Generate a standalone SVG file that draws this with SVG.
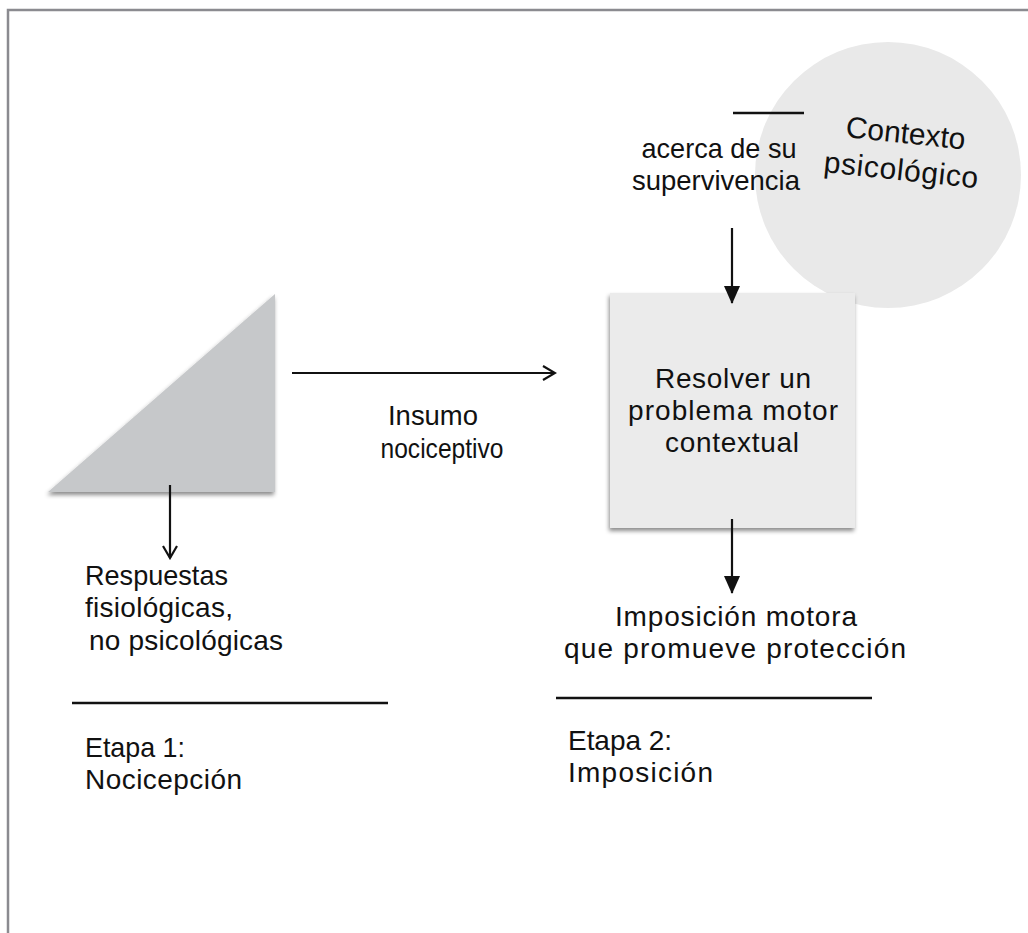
<svg xmlns="http://www.w3.org/2000/svg" width="1028" height="933" viewBox="0 0 1028 933">
<defs>
<style>
text{font-family:"Liberation Sans",Arial,sans-serif;font-size:28px;fill:#111;}
.c{text-anchor:middle;}
.big{font-size:30px;}
.ln{stroke:#111;stroke-width:2.2;fill:none;}
.sep{stroke:#111;stroke-width:2.6;}
</style>
<filter id="sh" x="-10%" y="-10%" width="125%" height="125%">
<feDropShadow dx="-1" dy="3" stdDeviation="2" flood-color="#000" flood-opacity="0.45"/>
</filter>
<marker id="open" viewBox="0 0 16 16" refX="14" refY="8" markerWidth="16" markerHeight="16" markerUnits="userSpaceOnUse" orient="auto">
<path d="M2,1 L14,8 L2,15" fill="none" stroke="#111" stroke-width="2.2"/>
</marker>
<marker id="fill" viewBox="0 0 18 18" refX="17" refY="9" markerWidth="18" markerHeight="18" markerUnits="userSpaceOnUse" orient="auto">
<path d="M0,1 L18,9 L0,17 Z" fill="#111"/>
</marker>
</defs>
<rect width="1028" height="933" fill="#fff"/>
<path d="M8,933 V10 H1028" fill="none" stroke="#8b8b90" stroke-width="2.5"/>

<g id="contexto">
<circle cx="888" cy="175" r="133" fill="#e9e9e9"/>
<text class="big" transform="translate(845,137) rotate(6)">Contexto</text>
<text class="big" transform="translate(823,172) rotate(6)" textLength="155">psicológico</text>
</g>

<g id="supervivencia">
<line class="sep" x1="733" y1="113" x2="804" y2="113"/>
<text class="c" x="719" y="158" textLength="155" lengthAdjust="spacingAndGlyphs">acerca de su</text>
<text class="c" x="716" y="190" textLength="168" lengthAdjust="spacingAndGlyphs">supervivencia</text>
</g>

<g id="nocicepcion-shape">
<polygon points="48,492 275,294 275,492" fill="#c6c8ca" filter="url(#sh)"/>
</g>

<g id="problema">
<rect x="610" y="293" width="245" height="235" fill="#ebebeb" filter="url(#sh)"/>
<text class="c" x="733" y="388" textLength="156">Resolver un</text>
<text class="c" x="733" y="420" textLength="210">problema motor</text>
<text class="c" x="732" y="452" textLength="134">contextual</text>
</g>

<g id="insumo">
<text class="c" x="433" y="425" textLength="90" lengthAdjust="spacingAndGlyphs">Insumo</text>
<text class="c" x="442" y="458" textLength="123" lengthAdjust="spacingAndGlyphs">nociceptivo</text>
</g>

<g id="respuestas">
<text x="85" y="585" textLength="143" lengthAdjust="spacingAndGlyphs">Respuestas</text>
<text x="85" y="617" textLength="148">fisiológicas,</text>
<text x="89" y="650" textLength="194">no psicológicas</text>
</g>

<g id="imposicion-motora">
<text class="c" x="736" y="626" textLength="242">Imposición motora</text>
<text class="c" x="735" y="658" textLength="342">que promueve protección</text>
</g>

<g id="etapa1">
<line class="sep" x1="72" y1="703" x2="388" y2="703"/>
<text x="85" y="757" textLength="100" lengthAdjust="spacingAndGlyphs">Etapa 1:</text>
<text x="85" y="789" textLength="157">Nocicepción</text>
</g>

<g id="etapa2">
<line class="sep" x1="556" y1="698" x2="872" y2="698"/>
<text x="568" y="750" textLength="104">Etapa 2:</text>
<text x="568" y="782" textLength="145">Imposición</text>
</g>

<g id="connectors">
<line class="ln" x1="292" y1="373" x2="555" y2="373" marker-end="url(#open)"/>
<line class="ln" x1="170" y1="485" x2="170" y2="558" marker-end="url(#open)"/>
<line class="ln" x1="732" y1="228" x2="732" y2="303" marker-end="url(#fill)"/>
<line class="ln" x1="732" y1="519" x2="732" y2="593" marker-end="url(#fill)"/>
</g>
</svg>
